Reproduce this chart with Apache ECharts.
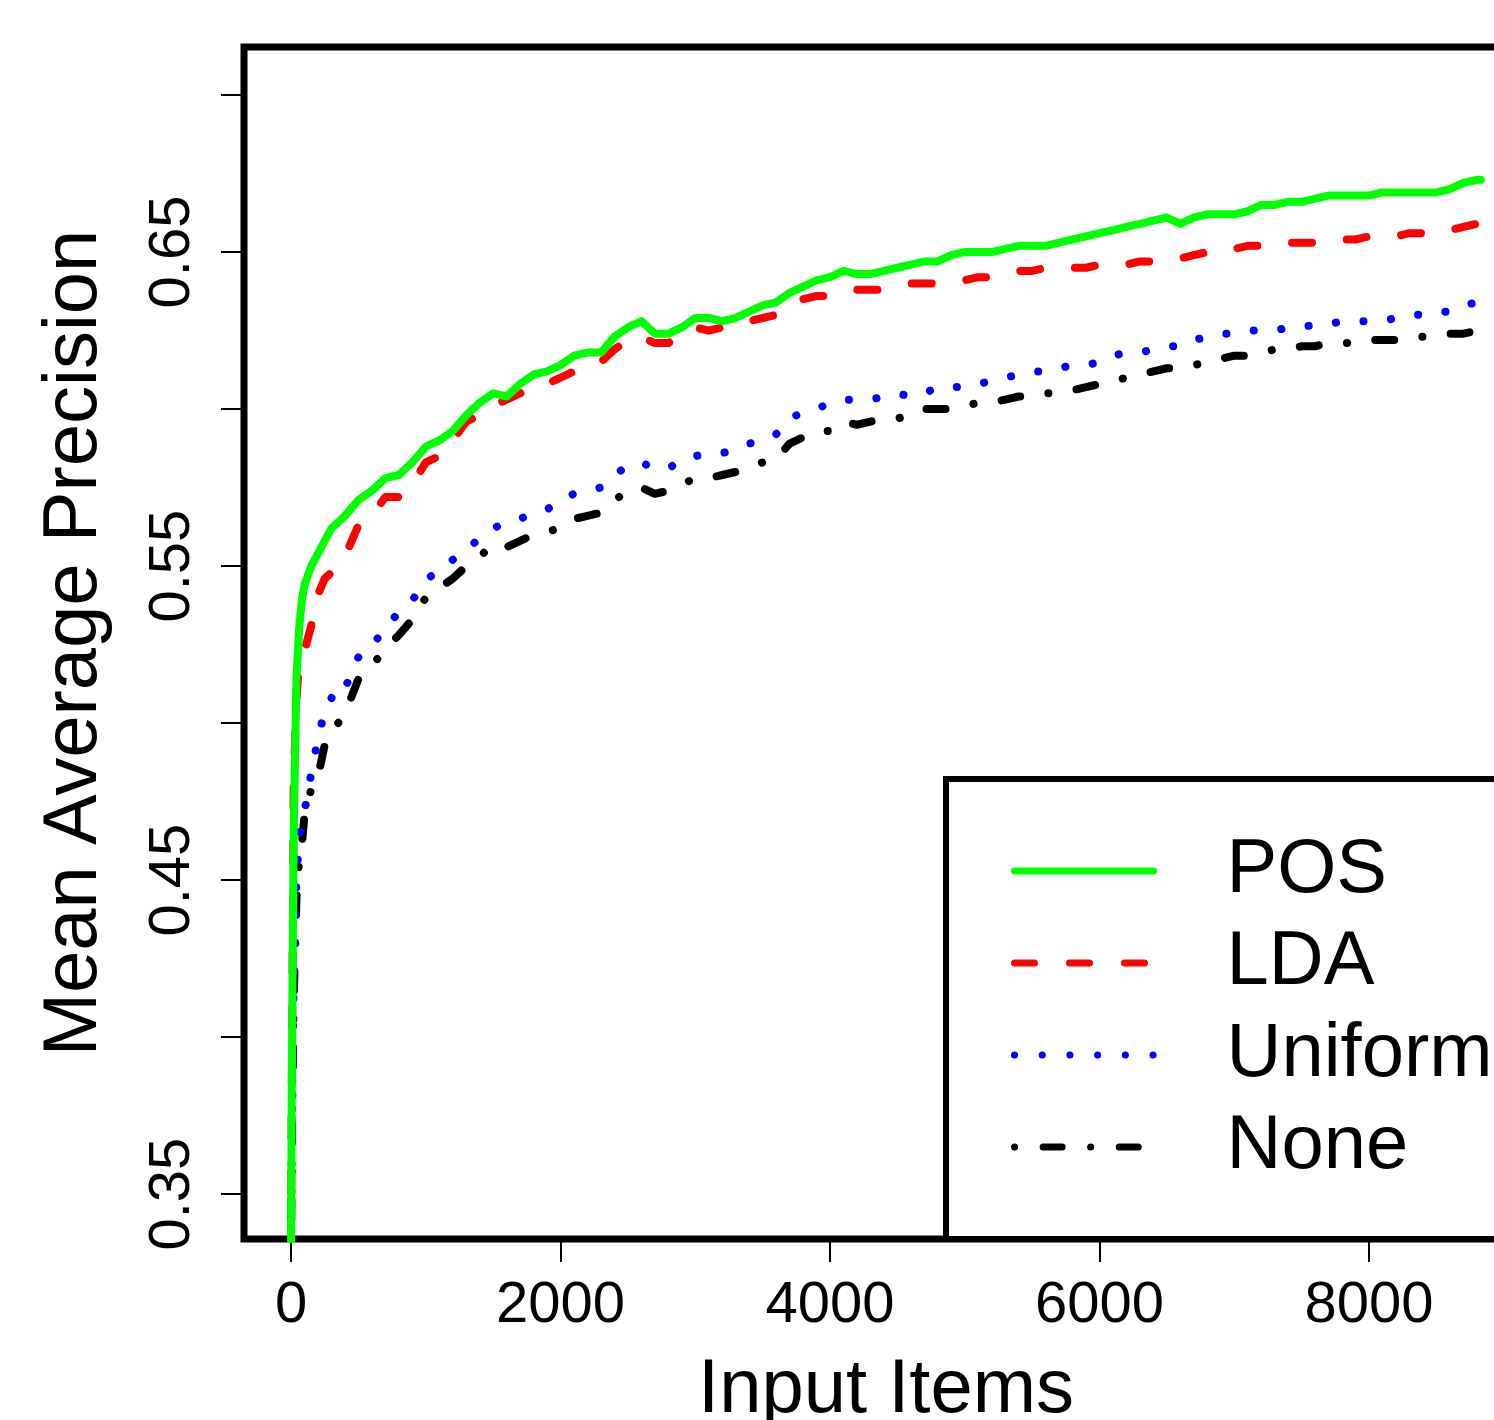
<!DOCTYPE html>
<html>
<head>
<meta charset="utf-8">
<title>Mean Average Precision vs Input Items</title>
<script src="https://cdn.jsdelivr.net/npm/echarts@6/dist/echarts.min.js"></script>
<style>
  html, body { margin: 0; padding: 0; overflow: hidden; background: #fff; }
  #chart { width: 1560px; height: 1420px; }
</style>
</head>
<body>
<div id="chart"></div>
<script>
// x positions (number of input items) shared by all four curves
const items = [
  0, 5, 10, 20, 40, 60, 80, 100, 150, 200, 250, 300, 350, 400,
  500, 600, 700, 800, 900,
  1000, 1100, 1200, 1300, 1400, 1500, 1600, 1700, 1800, 1900,
  2000, 2100, 2200, 2300, 2400, 2500, 2600, 2700, 2800, 2900,
  3000, 3100, 3200, 3300, 3400, 3500, 3600, 3700, 3800, 3900,
  4000, 4100, 4200, 4300, 4400, 4500, 4600, 4700, 4800, 4900,
  5000, 5100, 5200, 5300, 5400, 5500, 5600, 5700, 5800, 5900,
  6000, 6100, 6200, 6300, 6400, 6500, 6600, 6700, 6800, 6900,
  7000, 7100, 7200, 7300, 7400, 7500, 7600, 7700, 7800, 7900,
  8000, 8100, 8200, 8300, 8400, 8500, 8600, 8700, 8800, 8830
]

const pos = [
  0.333, 0.380, 0.412, 0.466, 0.514, 0.530, 0.539, 0.544, 0.550, 0.554, 0.558, 0.562, 0.564, 0.566,
  0.571, 0.574, 0.578, 0.579, 0.583,
  0.588, 0.590, 0.593, 0.598, 0.602, 0.605, 0.604, 0.608, 0.611, 0.612,
  0.614, 0.617, 0.618, 0.618, 0.623, 0.626, 0.628, 0.624, 0.624, 0.626,
  0.629, 0.629, 0.628, 0.629, 0.631, 0.633, 0.634, 0.637, 0.639, 0.641,
  0.642, 0.644, 0.643, 0.643, 0.644, 0.645, 0.646, 0.647, 0.647, 0.649,
  0.650, 0.650, 0.650, 0.651, 0.652, 0.652, 0.652, 0.653, 0.654, 0.655,
  0.656, 0.657, 0.658, 0.659, 0.660, 0.661, 0.659, 0.661, 0.662, 0.662,
  0.662, 0.663, 0.665, 0.665, 0.666, 0.666, 0.667, 0.668, 0.668, 0.668,
  0.668, 0.669, 0.669, 0.669, 0.669, 0.669, 0.670, 0.672, 0.673, 0.673
]

const lda = [
  0.333, 0.380, 0.412, 0.482, 0.507, 0.520, 0.522, 0.523, 0.531, 0.541, 0.546, 0.548, 0.550, 0.553,
  0.563, 0.566, 0.572, 0.572, 0.576,
  0.583, 0.585, 0.590, 0.596, 0.598, 0.601, 0.603, 0.605, 0.607, 0.608,
  0.610, 0.612, 0.613, 0.615, 0.619, 0.622, 0.623, 0.621, 0.621, 0.624,
  0.626, 0.625, 0.626, 0.627, 0.628, 0.629, 0.630, 0.633, 0.635, 0.636,
  0.636, 0.637, 0.638, 0.638, 0.638, 0.639, 0.640, 0.640, 0.640, 0.641,
  0.641, 0.642, 0.642, 0.643, 0.644, 0.644, 0.645, 0.645, 0.645, 0.645,
  0.646, 0.646, 0.646, 0.647, 0.647, 0.648, 0.648, 0.649, 0.650, 0.650,
  0.651, 0.652, 0.652, 0.652, 0.653, 0.653, 0.653, 0.654, 0.654, 0.654,
  0.655, 0.655, 0.655, 0.656, 0.656, 0.656, 0.657, 0.658, 0.659, 0.660
]

const uniform = [
  0.333, 0.364, 0.386, 0.418, 0.450, 0.463, 0.468, 0.472, 0.484, 0.495, 0.504, 0.508, 0.507, 0.511,
  0.521, 0.524, 0.531, 0.535, 0.539,
  0.546, 0.548, 0.552, 0.555, 0.559, 0.562, 0.564, 0.565, 0.567, 0.568,
  0.571, 0.573, 0.574, 0.575, 0.579, 0.582, 0.583, 0.581, 0.581, 0.584,
  0.585, 0.586, 0.586, 0.587, 0.589, 0.590, 0.592, 0.597, 0.599, 0.600,
  0.602, 0.603, 0.603, 0.603, 0.604, 0.605, 0.604, 0.605, 0.607, 0.607,
  0.607, 0.608, 0.609, 0.610, 0.611, 0.612, 0.612, 0.613, 0.614, 0.614,
  0.615, 0.617, 0.618, 0.618, 0.619, 0.620, 0.620, 0.622, 0.623, 0.624,
  0.624, 0.625, 0.625, 0.625, 0.626, 0.626, 0.627, 0.627, 0.628, 0.628,
  0.628, 0.628, 0.629, 0.630, 0.630, 0.631, 0.631, 0.633, 0.634, 0.634
]

const none = [
  0.333, 0.358, 0.380, 0.412, 0.444, 0.456, 0.461, 0.471, 0.479, 0.483, 0.493, 0.498, 0.500, 0.503,
  0.514, 0.518, 0.524, 0.528, 0.533,
  0.540, 0.543, 0.546, 0.550, 0.553, 0.557, 0.556, 0.558, 0.560, 0.561,
  0.562, 0.565, 0.566, 0.567, 0.571, 0.574, 0.575, 0.573, 0.574, 0.576,
  0.578, 0.578, 0.579, 0.580, 0.582, 0.583, 0.584, 0.589, 0.591, 0.593,
  0.593, 0.596, 0.595, 0.596, 0.597, 0.597, 0.598, 0.600, 0.600, 0.600,
  0.601, 0.602, 0.602, 0.603, 0.604, 0.604, 0.605, 0.605, 0.606, 0.607,
  0.608, 0.609, 0.610, 0.611, 0.612, 0.613, 0.613, 0.614, 0.615, 0.616,
  0.617, 0.617, 0.618, 0.619, 0.619, 0.620, 0.620, 0.621, 0.621, 0.621,
  0.622, 0.622, 0.622, 0.623, 0.623, 0.623, 0.624, 0.624, 0.625, 0.626
]

// ticks and labels
const xTicks = [0, 2000, 4000, 6000, 8000]
const yTicks = [0.35, 0.40, 0.45, 0.50, 0.55, 0.60, 0.65, 0.70]
const yLabels = [0.35, 0.45, 0.55, 0.65]

const FONT = '"Liberation Sans", Arial, Helvetica, sans-serif'

function pairs(ys) {
  return items.map((x, i) => [x, ys[i]])
}

function makeSeries(name, ys, color, dash) {
  return {
    name: name,
    type: 'line',
    data: pairs(ys),
    symbol: 'none',
    showSymbol: false,
    clip: true,
    silent: true,
    lineStyle: {
      color: color,
      width: 8,
      type: dash,
      cap: 'round',
      join: 'round'
    }
  }
}

const chart = echarts.init(document.getElementById('chart'), null, {renderer: 'canvas'})

const option = {
  animation: false,
  backgroundColor: '#fff',
  textStyle: {fontFamily: FONT, color: '#000'},
  grid: {
    left: 244,
    top: 47,
    right: 32,
    bottom: 181,
    containLabel: false,
    outerBoundsMode: 'none',
    show: true,
    borderColor: '#000',
    borderWidth: 7,
    backgroundColor: 'transparent'
  },
  xAxis: {
    type: 'value',
    min: -349,
    max: 9180,
    name: 'Input Items',
    nameLocation: 'middle',
    nameGap: 114,
    nameTextStyle: {fontSize: 76, fontFamily: FONT, color: '#000'},
    axisLine: {show: false, onZero: false},
    splitLine: {show: false},
    axisTick: {
      show: true,
      length: 23,
      customValues: xTicks,
      lineStyle: {color: '#000', width: 2}
    },
    axisLabel: {
      customValues: xTicks,
      fontSize: 58,
      margin: 38,
      color: '#000',
      fontFamily: FONT,
      formatter: v => String(v)
    }
  },
  yAxis: {
    type: 'value',
    min: 0.3357,
    max: 0.7153,
    name: 'Mean Average Precision',
    nameLocation: 'middle',
    nameRotate: 90,
    nameGap: 131,
    nameTextStyle: {fontSize: 76, fontFamily: FONT, color: '#000'},
    axisLine: {show: false, onZero: false},
    splitLine: {show: false},
    axisTick: {
      show: true,
      length: 23,
      customValues: yTicks,
      lineStyle: {color: '#000', width: 2}
    },
    axisLabel: {
      customValues: yLabels,
      rotate: 90,
      fontSize: 58,
      margin: 42,
      color: '#000',
      fontFamily: FONT,
      formatter: v => v.toFixed(2)
    }
  },
  legend: {
    orient: 'vertical',
    left: 946,
    top: 779,
    data: ['POS', 'LDA', 'Uniform', 'None'],
    selectedMode: false,
    itemWidth: 139,
    itemHeight: 14,
    itemGap: 4,
    padding: [48, 66, 48, 65],
    backgroundColor: '#fff',
    borderColor: '#000',
    borderWidth: 6,
    borderRadius: 0,
    itemStyle: {opacity: 0},
    lineStyle: {width: 7},
    textStyle: {
      fontSize: 76,
      lineHeight: 76,
      fontFamily: FONT,
      color: '#000',
      padding: [12, 0, 0, 68]
    }
  },
  // drawing order: black, blue, red, then green on top
  series: [
    makeSeries('None', none, '#000000', [0.1, 28.5, 19, 28.5]),
    makeSeries('Uniform', uniform, '#0000ff', [0.1, 27.6]),
    makeSeries('LDA', lda, '#ff0000', [20, 35]),
    makeSeries('POS', pos, '#00ff00', 'solid')
  ]
}

chart.setOption(option)
</script>
</body>
</html>
